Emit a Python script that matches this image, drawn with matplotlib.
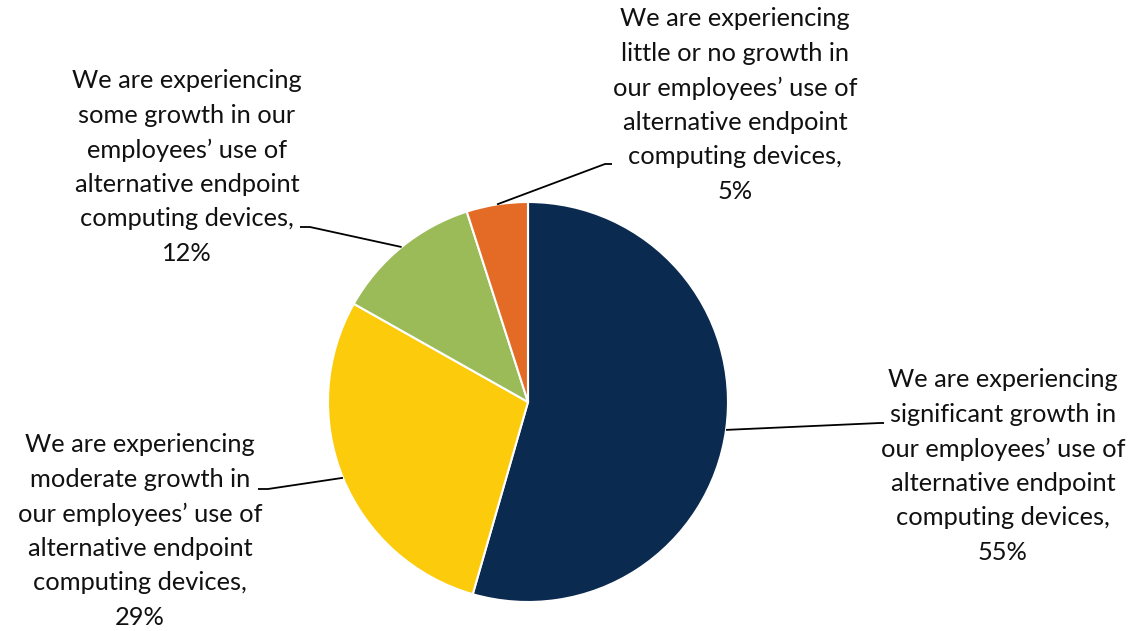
import numpy as np
import matplotlib
matplotlib.use("Agg")
import matplotlib.pyplot as plt

labels = [
    "We are experiencing\nsignificant growth in\nour employees\u2019 use of\nalternative endpoint\ncomputing devices,\n55%",
    "We are experiencing\nmoderate growth in\nour employees\u2019 use of\nalternative endpoint\ncomputing devices,\n29%",
    "We are experiencing\nsome growth in our\nemployees\u2019 use of\nalternative endpoint\ncomputing devices,\n12%",
    "We are experiencing\nlittle or no growth in\nour employees\u2019 use of\nalternative endpoint\ncomputing devices,\n5%",
]
values = [55, 29, 12, 5]
colors = ["#0A2A4F", "#FBCB0C", "#9BBB59", "#E36B26"]

W, H = 1141, 631
fig = plt.figure(figsize=(W / 100, H / 100), dpi=100)
ax = fig.add_axes([0, 0, 1, 1])
ax.set_xlim(0, W)
ax.set_ylim(0, H)
ax.set_aspect("equal")
ax.axis("off")

cx, cy, r = 528, H - 402, 200
wedges, _ = ax.pie(values, colors=colors, startangle=90, counterclock=False,
                   center=(cx, cy), radius=r,
                   wedgeprops=dict(edgecolor="white", linewidth=1.5))
ax.set_xlim(0, W)
ax.set_ylim(0, H)

# label layout: (text center x, text center y (from top), elbow x, elbow y(top), end x)
layout = [
    (1003, 466, 880, 423, 884),
    (140, 531, 268, 489, 258),
    (187, 167, 310, 227, 300),
    (735, 105, 605, 164, 612),
]

for w, lab, (tx, ty, ex, ey, endx) in zip(wedges, labels, layout):
    ang = np.deg2rad((w.theta1 + w.theta2) / 2)
    px = cx + r * np.cos(ang)
    py = cy + r * np.sin(ang)
    ax.plot([px, ex, endx], [py, H - ey, H - ey], color="black", lw=1.3,
            solid_capstyle="butt")
    ax.text(tx, H - ty, lab, ha="center", va="center", multialignment="center",
            fontsize=18.3, family=["Lato", "DejaVu Sans"], linespacing=1.6,
            color="#111111")

fig.savefig("out.png", dpi=100)
